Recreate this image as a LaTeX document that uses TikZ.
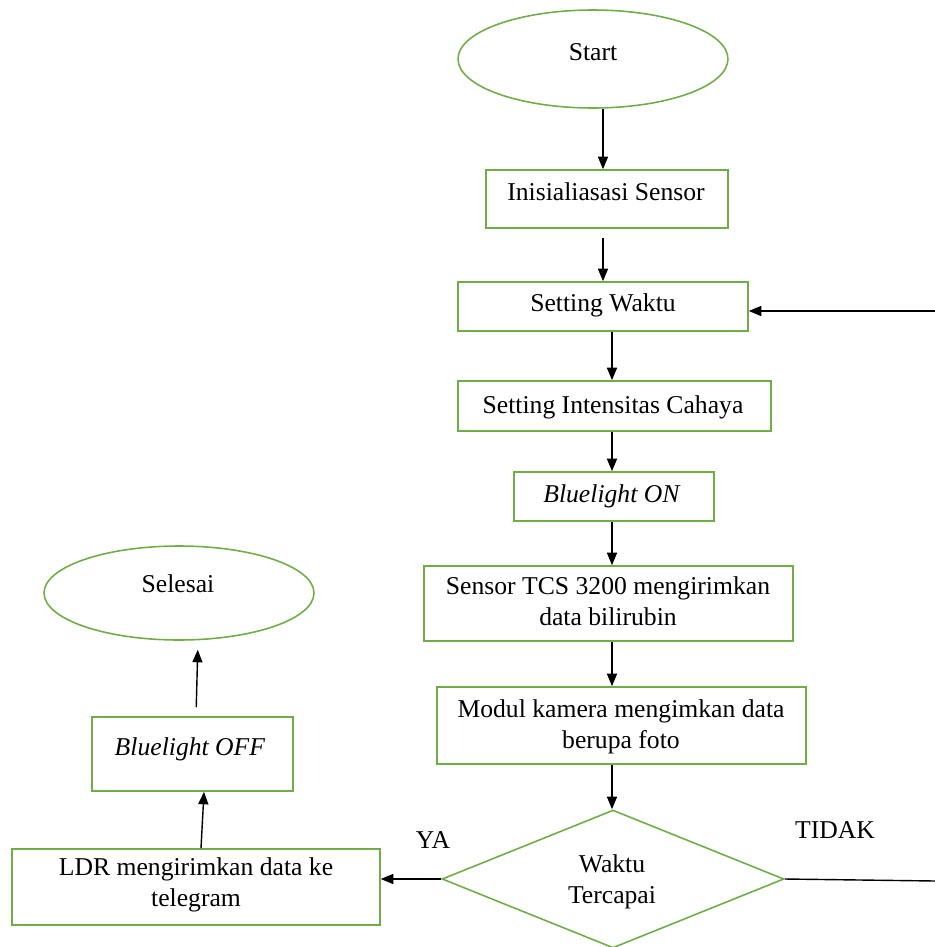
\documentclass[tikz,border=0pt]{standalone}
\usepackage{fontspec}
\setmainfont{Liberation Serif}
\usetikzlibrary{shapes.geometric,arrows.meta}
\definecolor{boxgreen}{RGB}{112,173,71}
\tikzset{
  shapebox/.style={draw=boxgreen, line width=0.9pt, rectangle, inner sep=0pt},
  shapeell/.style={draw=boxgreen, line width=0.9pt, ellipse, inner sep=0pt},
  shapedia/.style={draw=boxgreen, line width=0.9pt, diamond, inner sep=0pt},
  txt/.style={anchor=base, inner sep=0pt, align=center, font=\fontsize{14.6}{17.1}\selectfont},
  arr/.style={draw=black, line width=0.8pt, -{Triangle[length=0.25cm,width=0.2cm]}},
  plain/.style={draw=black, line width=0.8pt}
}
\begin{document}
\begin{tikzpicture}[x=0.02cm,y=-0.02cm]
\useasboundingbox (0,0) rectangle (935,947);
% shapes
\node[shapeell, minimum width=5.4cm, minimum height=1.96cm] (start) at (593,59) {};
\node[shapebox, minimum width=4.84cm, minimum height=1.16cm] (init) at (607,199) {};
\node[shapebox, minimum width=5.8cm, minimum height=0.98cm] (waktu) at (603,306.5) {};
\node[shapebox, minimum width=6.26cm, minimum height=1.0cm] (intens) at (614.5,406) {};
\node[shapebox, minimum width=4.0cm, minimum height=0.98cm] (blon) at (614,496.5) {};
\node[shapebox, minimum width=7.38cm, minimum height=1.5cm] (tcs) at (608.5,603.5) {};
\node[shapebox, minimum width=7.38cm, minimum height=1.54cm] (modul) at (621.5,725.5) {};
\node[shapedia, minimum width=6.84cm, minimum height=2.76cm] (dia) at (613,879) {};
\node[shapebox, minimum width=7.36cm, minimum height=1.52cm] (ldr) at (196,887) {};
\node[shapebox, minimum width=4.02cm, minimum height=1.48cm] (bloff) at (192.5,754) {};
\node[shapeell, minimum width=5.4cm, minimum height=1.88cm] (selesai) at (179,593) {};
% texts
\node[txt] (tstart) at (593,60) {Start};
\node[txt] (tinit) at (606,200) {Inisialiasasi Sensor};
\node[txt] (twaktu) at (603,311) {Setting Waktu};
\node[txt] (tintens) at (613,413) {Setting Intensitas Cahaya};
\node[txt] (tblon) at (612,502) {\textit{Bluelight ON}};
\node[txt] (ttcs) at (608,625) {Sensor TCS 3200 mengirimkan\\data bilirubin};
\node[txt] (tmodul) at (621,748) {Modul kamera mengimkan data\\berupa foto};
\node[txt] (tdia) at (612,903) {Waktu\\Tercapai};
\node[txt] (tldr) at (196,906) {LDR mengirimkan data ke\\telegram};
\node[txt] (tbloff) at (190,755) {\textit{Bluelight OFF}};
\node[txt] (tselesai) at (178,592) {Selesai};
\node[txt] (tya) at (433,848) {YA};
\node[txt] (ttidak) at (835,838) {TIDAK};
% connectors
\draw[arr] (start.south -| 603,0) -- (init.north -| 603,0);
\draw[arr, shorten <=5pt] (init.south -| 603,0) -- (waktu.north -| 603,0);
\draw[arr] (waktu.south -| 612,0) -- (intens.north -| 612,0);
\draw[arr] (intens.south -| 612,0) -- (blon.north -| 612,0);
\draw[arr] (blon.south -| 612,0) -- (tcs.north -| 612,0);
\draw[arr] (tcs.south -| 612,0) -- (modul.north -| 612,0);
\draw[arr] (modul.south -| 612,0) -- (dia.north -| 612,0);
\draw[arr] (dia.west) -- (ldr.east |- dia.west);
\draw[arr] (ldr.north -| 201,0) -- (bloff.south -| 204,0);
\draw[arr, shorten <=0.18cm, shorten >=0.18cm] (bloff.north -| 196,0) -- (selesai.south -| 198,0);
\coordinate (rb) at (935,881);
\coordinate (rt) at (935,311);
\draw[plain] (dia.east) -- (rb);
\draw[arr] (rt) -- (waktu.east |- rt);
\end{tikzpicture}
\end{document}
